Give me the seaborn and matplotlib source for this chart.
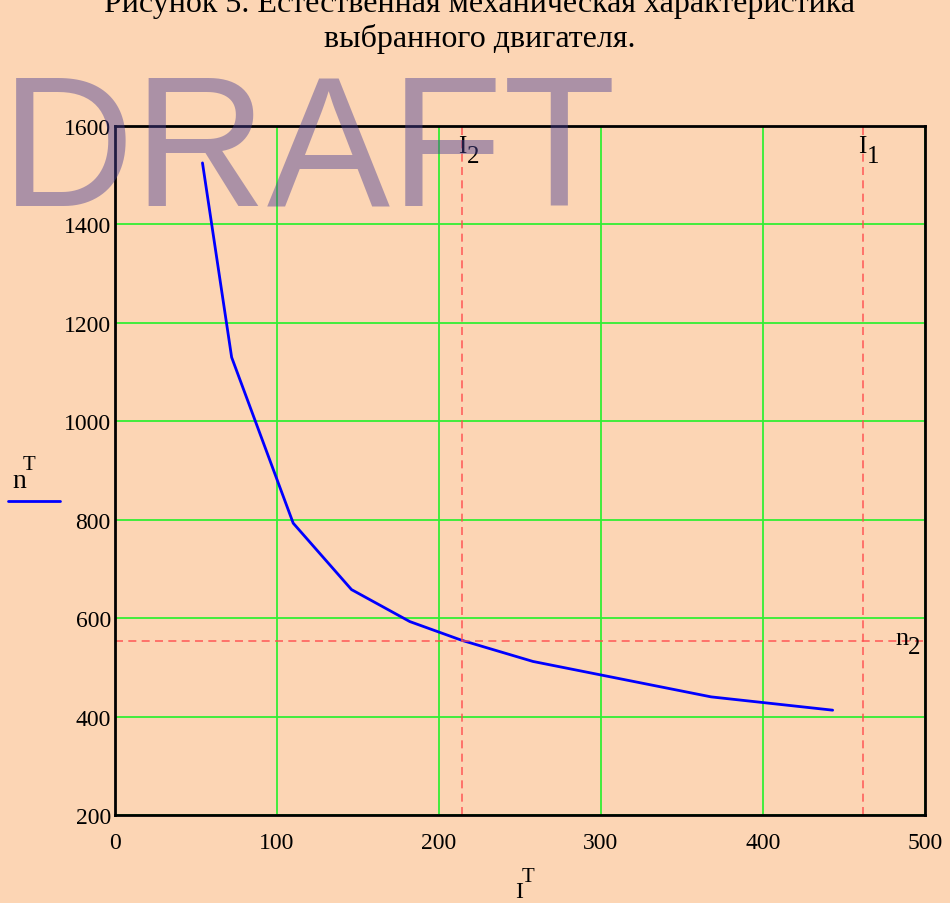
import numpy as np
import pandas as pd
import seaborn as sns
import matplotlib.pyplot as plt
from matplotlib.lines import Line2D

# natural mechanical characteristic: current (A) vs speed (rpm)
current = [54, 72, 110, 146, 182, 214, 258, 368, 443]
speed = [1525, 1130, 793, 658, 593, 555, 512, 440, 413]

I1 = 461.5   # marker lines
I2 = 214.5
n2 = 553

x_ticks = [0, 100, 200, 300, 400, 500]
y_ticks = [200, 400, 600, 800, 1000, 1200, 1400, 1600]

title_1 = "Рисунок 5. Естественная механическая характеристика"
title_2 = "выбранного двигателя."

BG = '#FCD5B4'
GRID = '#33EE33'
RED = '#FF4D4D'

sns.set_style("white", {"axes.facecolor": BG, "figure.facecolor": BG})
plt.rcParams['font.family'] = ['Liberation Serif', 'DejaVu Serif']
plt.rcParams['text.color'] = 'black'

df = pd.DataFrame({"I": current, "n": speed})

fig = plt.figure(figsize=(9.5, 9.04), dpi=100, facecolor=BG)
ax = fig.add_axes([0.12105, 0.09735, 0.85263, 0.76217])

sns.lineplot(data=df, x="I", y="n", color='#0000FF', lw=2, ax=ax)

# dashed marker lines
dash = (0, (4.8, 3.2))
ax.axvline(I2, color=RED, lw=1.2, ls=dash, alpha=0.85)
ax.axvline(I1, color=RED, lw=1.2, ls=dash, alpha=0.85)
ax.axhline(n2, color=RED, lw=1.2, ls=dash, alpha=0.85)

# axis settings
ax.set_xlim(0, 500)
ax.set_ylim(200, 1600)
ax.set_xticks(x_ticks)
ax.set_yticks(y_ticks)
ax.grid(True, color=GRID, lw=1.3)
ax.set_axisbelow(True)
ax.tick_params(length=0, labelsize=17, colors='black')
ax.tick_params(axis='x', pad=12)
ax.tick_params(axis='y', pad=3)
for s in ax.spines.values():
    s.set_visible(True)
    s.set_color('black')
    s.set_linewidth(2)
ax.set_xlabel('')
ax.set_ylabel('')

# marker labels
lab = dict(ha='center', va='center', textcoords='offset points',
           annotation_clip=False, color='black')
ax.annotate('I', xy=(I2, 1600), xytext=(0, -14.4), fontsize=18, **lab)
ax.annotate('2', xy=(I2, 1600), xytext=(7.9, -21.6), fontsize=18, **lab)
ax.annotate('I', xy=(I1, 1600), xytext=(0, -14.4), fontsize=18, **lab)
ax.annotate('1', xy=(I1, 1600), xytext=(7.9, -21.6), fontsize=18, **lab)
ax.annotate('n', xy=(500, n2), xytext=(-16.2, 2.2), fontsize=19, **lab)
ax.annotate('2', xy=(500, n2), xytext=(-7.6, -4.3), fontsize=18, **lab)

# axis labels, mathcad style
W, H = 950.0, 904.0
fig.text(519.5 / W, 1 - 893 / H, 'I', fontsize=17, ha='center', va='center')
fig.text(527.5 / W, 1 - 878 / H, 'T', fontsize=15, ha='center', va='center')
fig.text(19 / W, 1 - 481.5 / H, 'n', fontsize=20, ha='center', va='center')
fig.text(29 / W, 1 - 465 / H, 'T', fontsize=15, ha='center', va='center')
fig.add_artist(Line2D([8 / W, 60 / W], [1 - 502 / H, 1 - 502 / H],
                      transform=fig.transFigure, color='#0000FF', lw=2))

# title (first line is cut off by the page edge)
fig.text(480 / W, 1 - 12 / H, title_1, fontsize=23, ha='center', va='baseline')
fig.text(480 / W, 1 - 47 / H, title_2, fontsize=23, ha='center', va='baseline')

# watermark
fig.text(309 / W, 1 - 205 / H, 'DRAFT', fontsize=133, ha='center', va='baseline',
         family='Liberation Sans', color='#4A4095', alpha=0.45, zorder=10)

plt.savefig('out.png', dpi=100, facecolor=BG)
